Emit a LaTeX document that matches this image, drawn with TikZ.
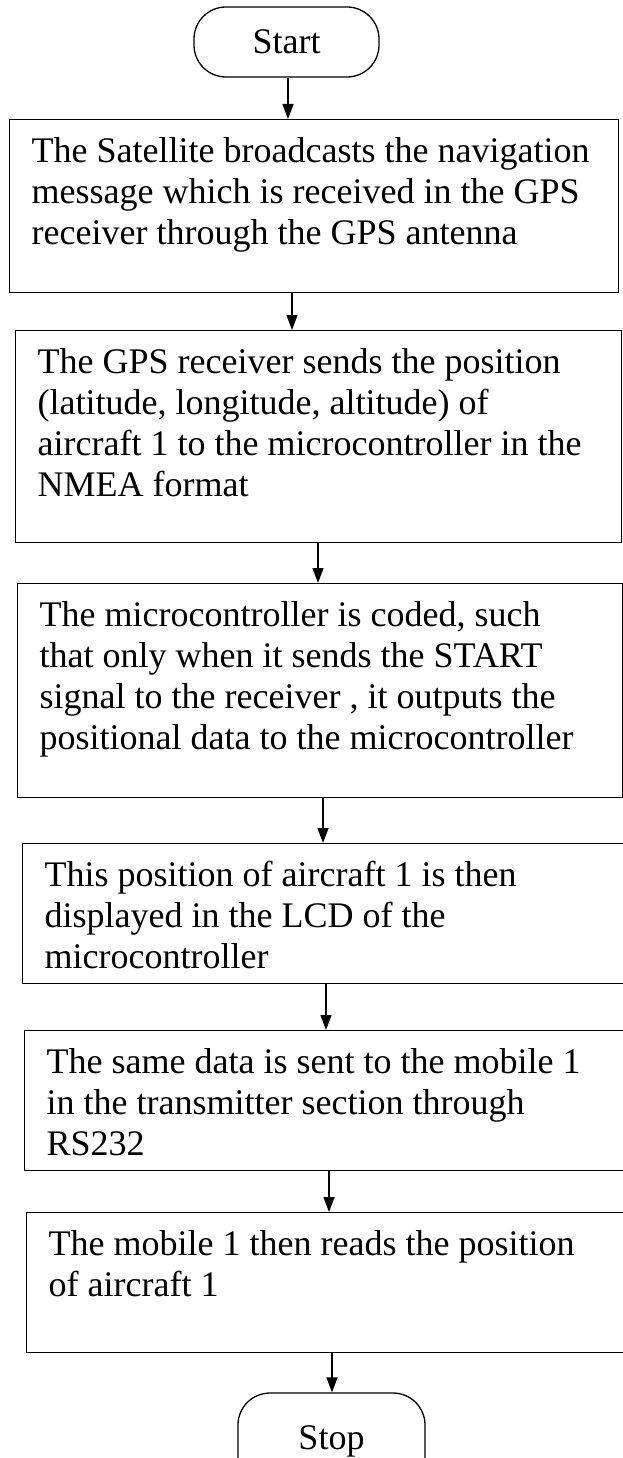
\documentclass[tikz,border=0pt]{standalone}
\usepackage{fontspec}
\setmainfont{Liberation Serif}
\usetikzlibrary{arrows.meta}
\newcommand{\btext}[3]{\parbox[t][#1][t]{#2}{\raggedright\strut #3}}
\tikzset{
  procbox/.style={draw, line width=1.3pt, anchor=north west, inner xsep=22pt, inner ysep=14pt, font=\fontsize{36}{41}\selectfont},
  term/.style={draw, line width=1.3pt, rounded corners=32pt, font=\fontsize{36}{41}\selectfont, inner sep=0pt, align=center},
  arr/.style={line width=1.3pt, -{Triangle[length=15pt,width=11pt]}}
}
\begin{document}
\begin{tikzpicture}[x=1pt,y=-1pt]
\useasboundingbox (0,0) rectangle (623,1458);
\clip (0,0) rectangle (623,1458);
\fill[white] (0,0) rectangle (623,1458);

\node[term, minimum width=185pt, minimum height=70pt] (start) at (286.5,42) {Start};

\node[procbox] (b1) at (9,119) {\btext{145pt}{565pt}{\mbox{The Satellite broadcasts the navigation}\\\mbox{message which is received in the GPS}\\\mbox{receiver through the GPS antenna}}};

\node[procbox] (b2) at (15,330) {\btext{184pt}{562pt}{\mbox{The GPS receiver sends the position}\\\mbox{(latitude, longitude, altitude) of}\\\mbox{aircraft 1 to the microcontroller in the}\\\mbox{NMEA format}}};

\node[procbox] (b3) at (17,583) {\btext{186pt}{561pt}{\mbox{The microcontroller is coded, such}\\\mbox{that only when it sends the START}\\\mbox{signal to the receiver , it outputs the}\\\mbox{positional data to the microcontroller}}};

\node[procbox] (b4) at (22,843) {\btext{112pt}{564pt}{\mbox{This position of aircraft 1 is then}\\\mbox{displayed in the LCD of the}\\\mbox{microcontroller}}};

\node[procbox] (b5) at (24,1030) {\btext{112pt}{562pt}{\mbox{The same data is sent to the mobile 1}\\\mbox{in the transmitter section through}\\\mbox{RS232}}};

\node[procbox] (b6) at (26,1212) {\btext{112pt}{560pt}{\mbox{The mobile 1 then reads the position}\\\mbox{of aircraft 1}}};

\node[term, minimum width=187pt, minimum height=96pt] (stop) at (331.5,1441) {Stop};

\draw[arr] (start.south -| 288,0) -- (b1.north -| 288,0);
\draw[arr] (b1.south -| 292,0) -- (b2.north -| 292,0);
\draw[arr] (b2.south -| 318,0) -- (b3.north -| 318,0);
\draw[arr] (b3.south -| 323,0) -- (b4.north -| 323,0);
\draw[arr] (b4.south -| 326,0) -- (b5.north -| 326,0);
\draw[arr] (b5.south -| 329,0) -- (b6.north -| 329,0);
\draw[arr] (b6.south -| 332,0) -- (stop.north -| 332,0);
\end{tikzpicture}
\end{document}
